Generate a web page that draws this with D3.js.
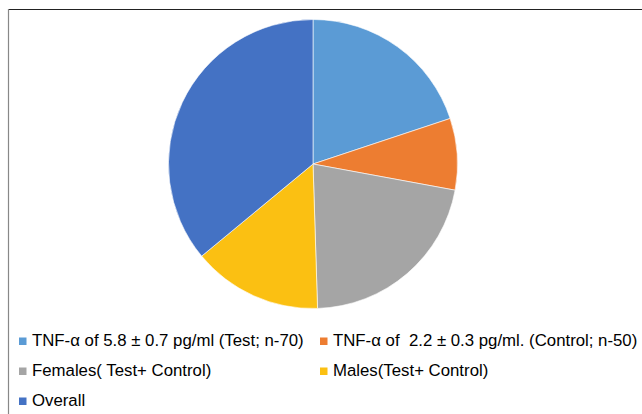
<!DOCTYPE html>
<html>
<head>
<meta charset="utf-8">
<script src="https://cdn.jsdelivr.net/npm/d3@7"></script>
<style>
  body { margin: 0; background: #fff; }
  svg { display: block; }
  .legend text { font-family: "Liberation Sans", Arial, sans-serif; font-size: 16.8px; fill: #000; white-space: pre; }
</style>
</head>
<body>
<div id="chart"></div>
<script>
const width = 642;
const height = 414;

// slices, clockwise from 12 o'clock
const labels = [
  "TNF-α of 5.8 ± 0.7 pg/ml (Test; n-70)",
  "TNF-α of  2.2 ± 0.3 pg/ml. (Control; n-50)",
  "Females( Test+ Control)",
  "Males(Test+ Control)",
  "Overall"
];
const values = [19.9, 8.0, 21.6, 14.5, 36.0];
const colors = ["#5b9bd5", "#ed7d31", "#a5a5a5", "#fbc012", "#4472c4"];

const data = labels.map((l, i) => ({ label: l, value: values[i], color: colors[i] }));

const svg = d3.select("#chart")
  .append("svg")
  .attr("width", width)
  .attr("height", height);

// frame (only top and left edges show)
svg.append("line")
  .attr("x1", 8.5).attr("y1", 9.5).attr("x2", width).attr("y2", 9.5)
  .attr("stroke", "#222").attr("stroke-width", 1.2);
svg.append("line")
  .attr("x1", 8.5).attr("y1", 9).attr("x2", 8.5).attr("y2", height)
  .attr("stroke", "#888").attr("stroke-width", 1.2);

const pie = d3.pie()
  .sort(null)
  .value(d => d.value);

const arc = d3.arc()
  .innerRadius(0)
  .outerRadius(144.5);

const pieG = svg.append("g")
  .attr("transform", `translate(${313}, ${164})`);

pieG.selectAll("path")
  .data(pie(data))
  .join("path")
  .attr("d", arc)
  .attr("fill", d => d.data.color)
  .attr("stroke", "#fff")
  .attr("stroke-width", 0.6);

// legend
const legendPos = [
  [19, 346], [320, 346],
  [19, 376], [320, 376],
  [19, 406]
];

const legend = svg.append("g")
  .attr("class", "legend")
  .selectAll("g")
  .data(data)
  .join("g")
  .attr("transform", (d, i) => `translate(${legendPos[i][0]}, ${legendPos[i][1]})`);

legend.append("rect")
  .attr("x", 0)
  .attr("y", -8.5)
  .attr("width", 7.5)
  .attr("height", 7.5)
  .attr("fill", d => d.color);

legend.append("text")
  .attr("x", 13)
  .attr("y", 0)
  .text(d => d.label);
</script>
</body>
</html>
